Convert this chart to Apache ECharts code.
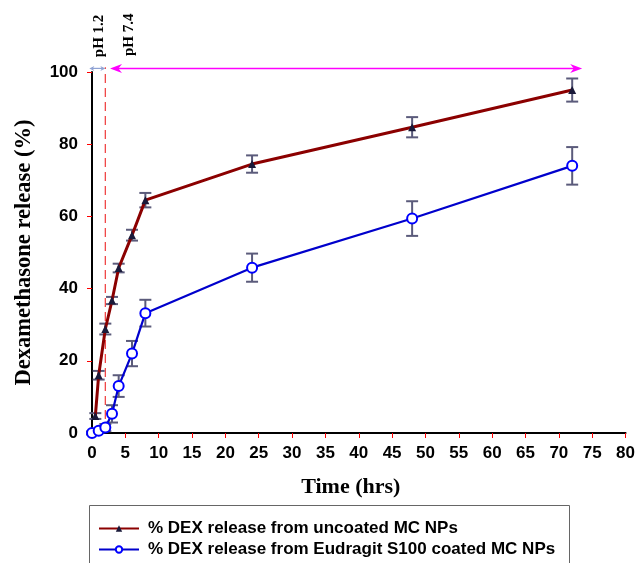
<!DOCTYPE html>
<html>
<head>
<meta charset="utf-8">
<script src="https://cdn.jsdelivr.net/npm/echarts@6/dist/echarts.min.js"></script>
<style>html,body{margin:0;padding:0;background:#fff}#chart{width:638px;height:563px}</style>
</head>
<body>
<div id="chart"></div>
<script>
// release data
var uncoatedTime = [0.5, 1, 2, 3, 4, 6, 8, 24, 48, 72];
var uncoatedRelease = [4.7, 16, 28.8, 36.7, 45.7, 54.8, 64.5, 74.5, 84.7, 95];
var uncoatedErr = [0.8, 1.2, 1.5, 1, 1.2, 1.5, 2, 2.4, 2.8, 3.2];
var coatedTime = [0, 1, 2, 3, 4, 6, 8, 24, 48, 72];
var coatedRelease = [0, 0.6, 1.5, 5.3, 13, 22, 33.2, 45.8, 59.4, 74];
var coatedErr = [0.4, 0.5, 1, 2.4, 3, 3.5, 3.7, 3.9, 4.8, 5.2];
var seriesNames = ['% DEX release from uncoated MC NPs', '% DEX release from Eudragit S100 coated MC NPs'];

// pH annotation
var phSwitch = 2;
var arrowY = 101;
var arrowStart = 2.7;
var arrowEnd = 73.5;

var chart = echarts.init(document.getElementById('chart'));

function pairs(t, v) {
  return t.map(function (x, i) { return [x, v[i]]; });
}
function errorData(t, v, e) {
  return t.map(function (x, i) { return [x, v[i] - e[i], v[i] + e[i]]; });
}

function renderErr(params, api) {
  var x = api.value(0);
  var lo = api.coord([x, api.value(1)]);
  var hi = api.coord([x, api.value(2)]);
  var w = 6;
  var st = { stroke: '#5b5b7b', lineWidth: 2 };
  return {
    type: 'group',
    children: [
      { type: 'line', shape: { x1: lo[0], y1: lo[1], x2: hi[0], y2: hi[1] }, style: st },
      { type: 'line', shape: { x1: lo[0] - w, y1: lo[1], x2: lo[0] + w, y2: lo[1] }, style: st },
      { type: 'line', shape: { x1: hi[0] - w, y1: hi[1], x2: hi[0] + w, y2: hi[1] }, style: st }
    ]
  };
}

function head(tip, dir, color, len, half) {
  // dir: -1 points left, 1 points right
  return {
    type: 'polygon',
    shape: { points: [[tip[0], tip[1]], [tip[0] - dir * len, tip[1] - half], [tip[0] - dir * len * 0.7, tip[1]], [tip[0] - dir * len, tip[1] + half]] },
    style: { fill: color }
  };
}

function renderNotes(params, api) {
  var base = api.coord([phSwitch, 0]);
  var top = api.coord([phSwitch, arrowY + 0.3]);
  var a0 = api.coord([arrowStart, arrowY]);
  var a1 = api.coord([arrowEnd, arrowY]);
  var b0 = api.coord([-0.4, arrowY]);
  var b1 = api.coord([phSwitch, arrowY]);
  var t1 = api.coord([1.1, 110]);
  var t2 = api.coord([5.6, 110.3]);
  var txt = { fill: '#000', fontFamily: 'Liberation Serif, Times New Roman, serif', fontWeight: 'bold', fontSize: 15, align: 'center', verticalAlign: 'middle' };
  return {
    type: 'group',
    children: [
      { type: 'line', shape: { x1: base[0], y1: base[1], x2: top[0], y2: top[1] }, style: { stroke: '#f04848', lineWidth: 1.3, lineDash: [9, 5] } },
      { type: 'line', shape: { x1: a0[0] + 6, y1: a0[1], x2: a1[0] - 6, y2: a1[1] }, style: { stroke: '#ff00ff', lineWidth: 1.5 } },
      head(a0, -1, '#ff00ff', 12, 4.5),
      head(a1, 1, '#ff00ff', 12, 4.5),
      { type: 'line', shape: { x1: b0[0] + 3, y1: b0[1], x2: b1[0] - 3, y2: b1[1] }, style: { stroke: '#8fa2d4', lineWidth: 1.2 } },
      head(b0, -1, '#8fa2d4', 5, 2.5),
      head(b1, 1, '#8fa2d4', 5, 2.5),
      { type: 'text', x: t1[0], y: t1[1], rotation: Math.PI / 2, style: Object.assign({ text: 'pH 1.2' }, txt) },
      { type: 'text', x: t2[0], y: t2[1], rotation: Math.PI / 2, style: Object.assign({ text: 'pH 7.4' }, txt) }
    ]
  };
}

var sansBold = { fontFamily: 'Liberation Sans, Arial, sans-serif', fontWeight: 'bold', fontSize: 17, color: '#000' };

var option = {
  animation: false,
  grid: { left: 92, right: 10, top: 72, bottom: 130 },
  graphic: [{
    type: 'rect', left: 89, top: 505, z: -1,
    shape: { width: 480, height: 70 },
    style: { fill: '#fff', stroke: '#666', lineWidth: 1 }
  }],
  legend: {
    data: seriesNames,
    orient: 'vertical',
    left: 93,
    top: 515,
    itemWidth: 40,
    itemHeight: 8,
    itemGap: 4,
    textStyle: { fontFamily: 'Liberation Sans, Arial, sans-serif', fontWeight: 'bold', fontSize: 17, color: '#000', padding: [0, 0, 0, 4] }
  },
  xAxis: {
    type: 'value', min: 0, max: 80, interval: 5,
    name: 'Time (hrs)', nameLocation: 'middle', nameGap: 43,
    nameTextStyle: { fontFamily: 'Liberation Serif, Times New Roman, serif', fontWeight: 'bold', fontSize: 22, color: '#000', padding: [0, 16, 0, 0] },
    axisLine: { lineStyle: { color: '#000', width: 2 } },
    axisTick: { lineStyle: { color: '#ff0000' }, length: 5 },
    axisLabel: Object.assign({ margin: 12 }, sansBold),
    splitLine: { show: false }
  },
  yAxis: {
    type: 'value', min: 0, max: 100, interval: 20,
    name: 'Dexamethasone release (%)', nameLocation: 'middle', nameGap: 56,
    nameTextStyle: { fontFamily: 'Liberation Serif, Times New Roman, serif', fontWeight: 'bold', fontSize: 22.5, color: '#000' },
    axisLine: { show: true, lineStyle: { color: '#000', width: 2 } },
    axisTick: { show: true, lineStyle: { color: '#ff0000' }, length: 5 },
    axisLabel: Object.assign({ margin: 14 }, sansBold),
    splitLine: { show: false }
  },
  series: [
    {
      type: 'custom', name: 'notes', renderItem: renderNotes, data: [[0, 0]], silent: true, z: 1
    },
    {
      type: 'custom', name: 'errUncoated', renderItem: renderErr, encode: { x: 0, y: [1, 2] },
      data: errorData(uncoatedTime, uncoatedRelease, uncoatedErr), z: 2
    },
    {
      type: 'custom', name: 'errCoated', renderItem: renderErr, encode: { x: 0, y: [1, 2] },
      data: errorData(coatedTime, coatedRelease, coatedErr), z: 2
    },
    {
      name: seriesNames[0], type: 'line', data: pairs(uncoatedTime, uncoatedRelease),
      symbol: 'triangle', symbolSize: 8, z: 3,
      lineStyle: { color: '#8b0000', width: 3 },
      itemStyle: { color: '#1a1a3a' }
    },
    {
      name: seriesNames[1], type: 'line', data: pairs(coatedTime, coatedRelease),
      symbol: 'emptyCircle', symbolSize: 10, z: 4,
      lineStyle: { color: '#0000cc', width: 2.2 },
      itemStyle: { color: '#0000ff', borderWidth: 1.2 }
    }
  ]
};
chart.setOption(option);
</script>
</body>
</html>
